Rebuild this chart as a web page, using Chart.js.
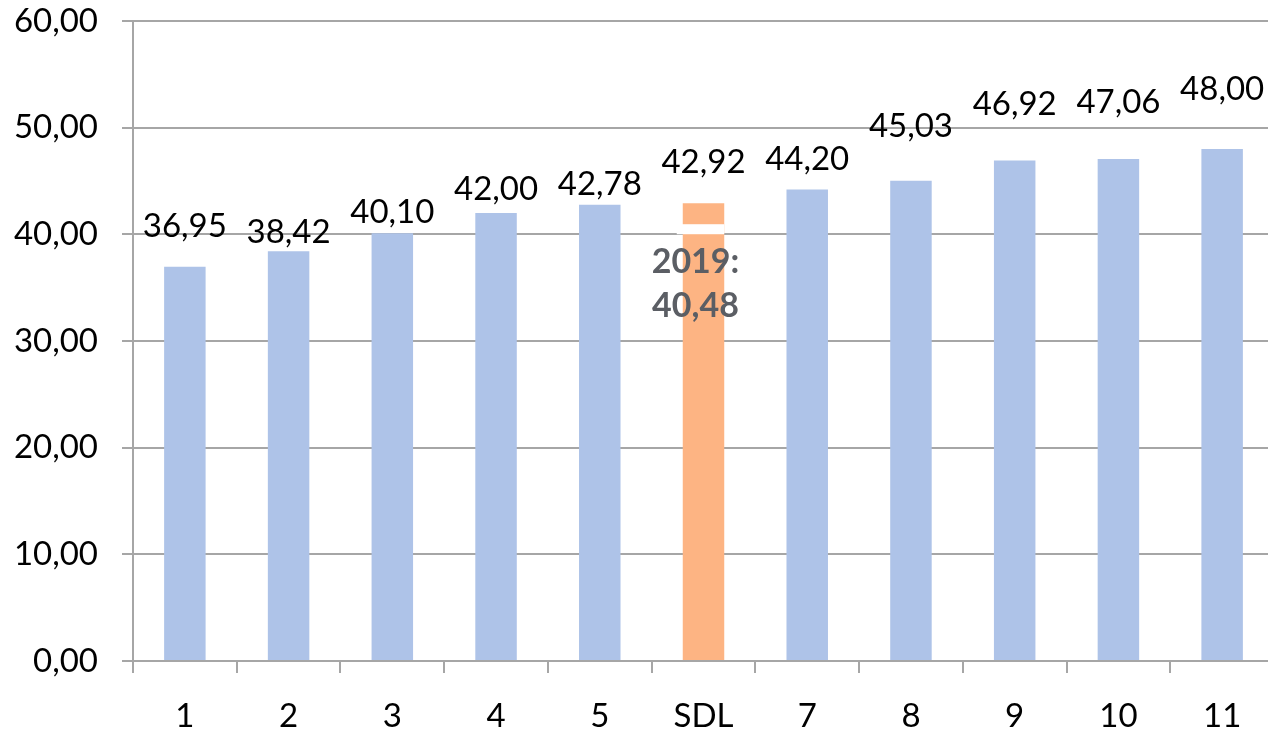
<!DOCTYPE html>
<html>
<head>
<meta charset="utf-8">
<script src="https://cdn.jsdelivr.net/npm/chart.js@4/dist/chart.umd.min.js"></script>
<style>
  html, body { margin: 0; padding: 0; background: #fff; overflow: hidden; }
  #wrap { width: 1274px; height: 737px; position: relative; }
</style>
</head>
<body>
<div id="wrap"><canvas id="chart"></canvas></div>
<script>
const categories = ['1', '2', '3', '4', '5', 'SDL', '7', '8', '9', '10', '11'];
const values = [36.95, 38.42, 40.10, 42.00, 42.78, 42.92, 44.20, 45.03, 46.92, 47.06, 48.00];
const highlightCategory = 'SDL';
const markerValue = 40.48;
const markerLabel = ['2019:', '40,48'];

const FONT = 'Lato, "Open Sans", sans-serif';
const BLUE = '#aec3e8';
const ORANGE = '#fdb483';
// pixel lift of each value label above its bar (labels were hand placed)
const labelLift = [41, 19, 21, 24, 20, 41, 30, 54, 56, 57, 60];

const fmt = v => v.toFixed(2).replace('.', ',');

const labelsPlugin = {
  id: 'valueLabels',
  afterDatasetsDraw(chart) {
    const { ctx, scales: { y } } = chart;
    const meta = chart.getDatasetMeta(0);
    ctx.save();
    // white marker across the highlighted bar
    const hi = categories.indexOf(highlightCategory);
    const bar = meta.data[hi];
    const my = y.getPixelForValue(markerValue);
    ctx.fillStyle = '#ffffff';
    ctx.fillRect(bar.x - bar.width / 2 - 6, my - 5, bar.width + 6, 10);

    ctx.font = '33px ' + FONT;
    ctx.fillStyle = '#000';
    ctx.textAlign = 'center';
    ctx.textBaseline = 'middle';
    meta.data.forEach((el, i) => {
      ctx.fillText(fmt(values[i]), el.x, el.y - labelLift[i]);
    });

    ctx.font = 'bold 34px ' + FONT;
    ctx.fillStyle = '#5b5e64';
    ctx.fillText(markerLabel[0], bar.x - 8, my + 33);
    ctx.fillText(markerLabel[1], bar.x - 8, my + 77);
    ctx.restore();
  }
};

new Chart(document.getElementById('chart'), {
  type: 'bar',
  data: {
    labels: categories,
    datasets: [{
      data: values,
      backgroundColor: categories.map(c => c === highlightCategory ? ORANGE : BLUE),
      barPercentage: 0.8,
      categoryPercentage: 0.5,
    }],
  },
  options: {
    responsive: true,
    maintainAspectRatio: false,
    animation: false,
    layout: { padding: { top: 21, right: 0, left: 0, bottom: 0 } },
    plugins: {
      legend: { display: false },
      title: { display: false },
      tooltip: { enabled: false },
    },
    scales: {
      y: {
        min: 0,
        max: 60,
        afterFit: s => { s.width = 133; s.paddingTop = 0; s.paddingBottom = 0; },
        ticks: {
          stepSize: 10,
          padding: 24,
          color: '#000',
          font: { family: FONT, size: 33 },
          callback: v => fmt(v),
        },
        grid: { color: '#a6a6a6', lineWidth: 2, tickLength: 11 },
        border: { color: '#a6a6a6', width: 2 },
      },
      x: {
        afterFit: s => { s.height = 76; s.paddingLeft = 0; s.paddingRight = 0; },
        ticks: {
          padding: 24,
          color: '#000',
          font: { family: FONT, size: 33 },
        },
        grid: { offset: true, drawOnChartArea: false, color: '#a6a6a6', lineWidth: 2, tickLength: 12 },
        border: { color: '#a6a6a6', width: 2 },
      },
    },
  },
  plugins: [labelsPlugin],
});
</script>
</body>
</html>
